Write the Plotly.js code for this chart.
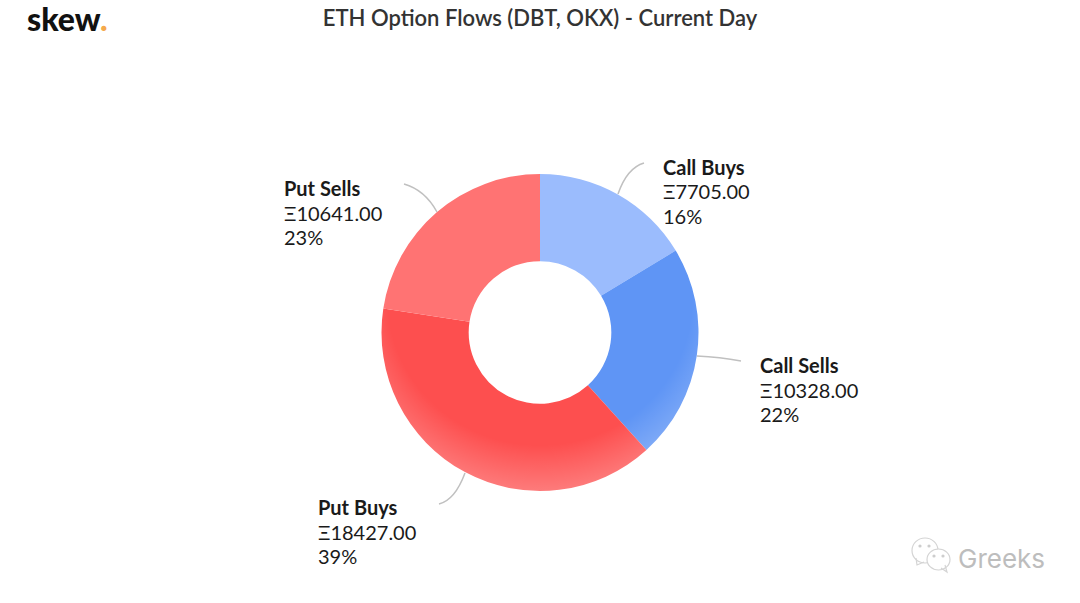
<!DOCTYPE html>
<html><head><meta charset="utf-8">
<script src="https://cdn.plot.ly/plotly-3.0.1.min.js"></script>
<style>html,body{margin:0;padding:0;background:#fff}#c{width:1080px;height:603px}</style>
</head><body><div id="c"></div>
<script>
const categories = ['Call Buys','Call Sells','Put Buys','Put Sells'];
const flows = [7705, 10328, 18427, 10641];
const flowLabels = ['7705.00','10328.00','18427.00','10641.00'];
const percents = ['16%','22%','39%','23%'];
const colors = ['#9BBCFD','#5F95F5','#FD4F4F','#FF7373'];
const labelPos = [[661.5,167],[758.5,365],[316.5,507],[282.5,188]];
const leaders = [[618,194,627,168,644,163],[697,356,720,357,741,361],[465,473,455,500,439,504],[437,212,425,190,404,184]];

const W=1080,H=603;
const px=x=>x/W, py=y=>1-y/H;
const grad = `<svg xmlns="http://www.w3.org/2000/svg" width="318" height="317" viewBox="0 0 318 317"><defs><radialGradient id="g" gradientUnits="userSpaceOnUse" cx="0" cy="0" r="1" gradientTransform="translate(159,126) scale(200,191)"><stop offset="0.76" stop-color="#fff" stop-opacity="0"/><stop offset="1" stop-color="#fff" stop-opacity="0.25"/></radialGradient></defs><rect width="318" height="317" fill="url(#g)"/></svg>`;
const shapes = leaders.map(l=>({type:'path',xref:'paper',yref:'paper',
  path:`M${px(l[0])},${py(l[1])} Q${px(l[2])},${py(l[3])} ${px(l[4])},${py(l[5])}`,
  line:{color:'#c0c0c0',width:1.5}}));
const bubble=(x0,y0,x1,y1,fill,col)=>({type:'circle',xref:'paper',yref:'paper',x0:px(x0),x1:px(x1),y0:py(y1),y1:py(y0),line:{color:col||'#d4d4d4',width:1.2},fillcolor:fill});
const tail=(a,b,c,d,e,f)=>({type:'path',xref:'paper',yref:'paper',path:`M${px(a)},${py(b)} L${px(c)},${py(d)} L${px(e)},${py(f)}`,line:{color:'#d4d4d4',width:1.2}});
shapes.push(
  bubble(912,538,938,563,'rgba(255,255,255,0)'),tail(916,558,917,565,924,562),
  bubble(927,549,950,570,'#fff'),tail(941,568,947,572,945,565),
  bubble(919,545,921,547,'#ccc','#ccc'),bubble(928,545,930,547,'#ccc','#ccc'),
  bubble(933,555,935,557,'#ccc','#ccc'),bubble(942,555,944,557,'#ccc','#ccc'));
const annotations = [];
const lineGap = 24.5;
categories.forEach((c,i)=>{
  [`<b>${c}</b>`,`Ξ${flowLabels[i]}`,percents[i]].forEach((t,k)=>annotations.push({
    xref:'paper',yref:'paper',x:px(labelPos[i][0]),y:py(labelPos[i][1]+k*lineGap),
    xanchor:'left',yanchor:'middle',align:'left',showarrow:false,borderpad:0,text:t,
    font:{family:'Lato, sans-serif',size:20,color:'#1a1a1a'}}));
});
annotations.push({xref:'paper',yref:'paper',x:px(26),y:py(39.5),xanchor:'left',yanchor:'bottom',showarrow:false,borderpad:0,
  text:'skew<span style="color:#F5A94B">.</span>',font:{family:'Lato, sans-serif',size:32,weight:900,color:'#111'}});
annotations.push({xref:'paper',yref:'paper',x:px(957),y:py(558),xanchor:'left',yanchor:'middle',showarrow:false,borderpad:0,
  text:'Greeks',font:{family:'Inter, sans-serif',size:26,color:'#bdbdbd'}});

Plotly.newPlot('c',[{type:'pie',labels:categories,values:flows,hole:0.45,sort:false,direction:'clockwise',rotation:0,
  marker:{colors:colors,line:{width:0}},textinfo:'none',hoverinfo:'label+value+percent',showlegend:false,
  domain:{x:[px(381),px(699)],y:[py(491),py(174)]}}],
 {width:W,height:H,margin:{l:0,r:0,t:0,b:0},paper_bgcolor:'#fff',showlegend:false,
  title:{text:'ETH Option Flows (DBT, OKX) - Current Day',font:{family:'Lato, sans-serif',size:22,weight:600,color:'#333'},x:0.5,xanchor:'center',y:1-18/H,yanchor:'middle'},
  images:[{source:'data:image/svg+xml;utf8,'+encodeURIComponent(grad),xref:'paper',yref:'paper',x:px(381),y:py(174),sizex:318/W,sizey:317/H,xanchor:'left',yanchor:'top',sizing:'stretch',layer:'above'}],
  shapes,annotations},{displayModeBar:false});
</script></body></html>
